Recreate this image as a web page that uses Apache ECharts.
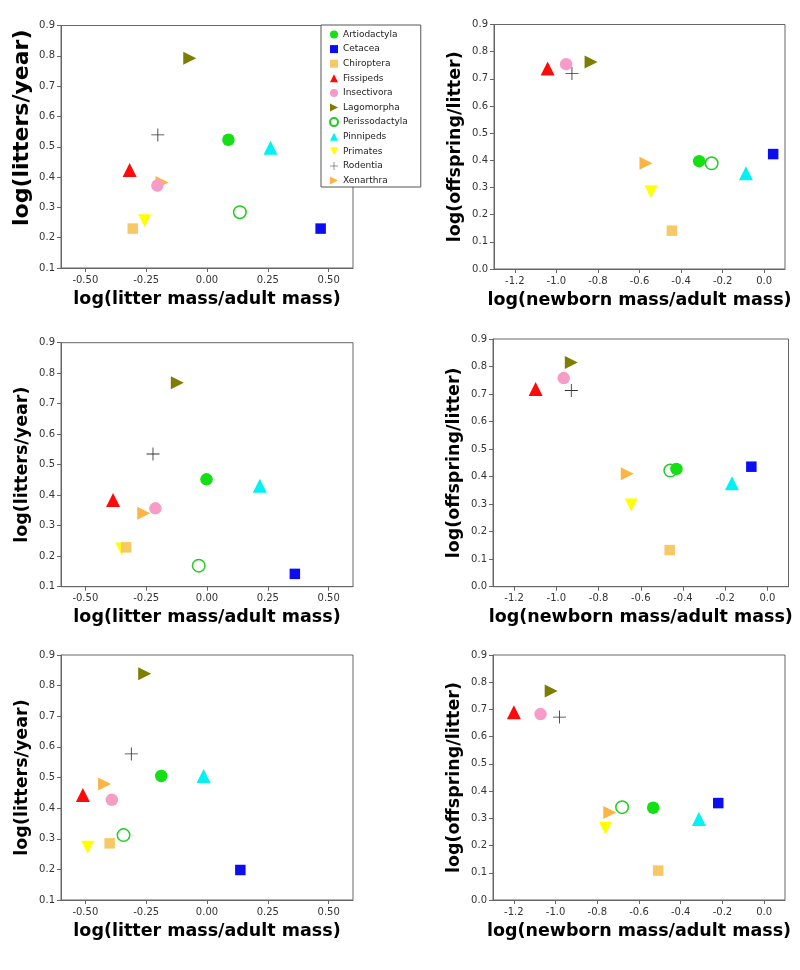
<!DOCTYPE html>
<html>
<head>
<meta charset="utf-8">
<script src="https://cdn.jsdelivr.net/npm/echarts@6/dist/echarts.min.js"></script>
<style>
html,body{margin:0;padding:0;background:#fff;}
#chart{width:800px;height:970px;}
</style>
</head>
<body>
<div id="chart"></div>
<script>
// ---- data ----
const species = ['Artiodactyla','Cetacea','Chiroptera','Fissipeds','Insectivora','Lagomorpha','Perissodactyla','Pinnipeds','Primates','Rodentia','Xenarthra'];

// top-left: log(litter mass/adult mass) vs log(litters/year)
const p1x = [0.088, 0.467, -0.305, -0.318, -0.204, -0.071, 0.135, 0.261, -0.256, -0.202, -0.185];
const p1y = [0.523, 0.230, 0.230, 0.423, 0.372, 0.792, 0.284, 0.497, 0.256, 0.539, 0.382];
// top-right: log(newborn mass/adult mass) vs log(offspring/litter)
const p2x = [-0.313, 0.043, -0.444, -1.042, -0.953, -0.833, -0.253, -0.088, -0.545, -0.925, -0.569];
const p2y = [0.397, 0.423, 0.141, 0.738, 0.754, 0.762, 0.389, 0.352, 0.284, 0.720, 0.389];
// middle-left
const p3x = [-0.002, 0.361, -0.332, -0.386, -0.212, -0.122, -0.034, 0.217, -0.350, -0.222, -0.260];
const p3y = [0.452, 0.142, 0.229, 0.384, 0.357, 0.769, 0.169, 0.431, 0.224, 0.535, 0.341];
// middle-right
const p4x = [-0.431, -0.076, -0.463, -1.098, -0.965, -0.929, -0.460, -0.168, -0.645, -0.929, -0.664];
const p4y = [0.428, 0.436, 0.133, 0.718, 0.758, 0.815, 0.422, 0.376, 0.297, 0.713, 0.410];
// bottom-left
const p5x = [-0.188, 0.137, -0.400, -0.510, -0.391, -0.256, -0.343, -0.014, -0.490, -0.311, -0.421];
const p5y = [0.505, 0.198, 0.285, 0.443, 0.427, 0.839, 0.312, 0.505, 0.272, 0.577, 0.479];
// bottom-right
const p6x = [-0.532, -0.220, -0.508, -1.200, -1.072, -1.021, -0.681, -0.313, -0.761, -0.981, -0.740];
const p6y = [0.339, 0.356, 0.108, 0.690, 0.683, 0.768, 0.341, 0.298, 0.264, 0.672, 0.321];

const leftXTicks = [-0.5, -0.25, 0, 0.25, 0.5];
const rightXTicks = [-1.2, -1.0, -0.8, -0.6, -0.4, -0.2, 0.0];

const leftXTitle = 'log(litter mass/adult mass)';
const rightXTitle = 'log(newborn mass/adult mass)';
const leftYTitle = 'log(litters/year)';
const rightYTitle = 'log(offspring/litter)';

// ---- styles ----
const colors = ['#14e014','#0d0df2','#f7c866','#ff0a0a','#f79cc6','#7d7d00','#22cc22','#00f2f2','#ffff00','#333333','#fbb545'];
const TRI_RIGHT = 'path://M0,0 L10,5 L0,10 Z';
const TRI_DOWN = 'path://M0,0 L10,0 L5,10 Z';
const PLUS = 'path://M0,9.35 L20,9.35 L20,10.65 L0,10.65 Z M9.35,0 L10.65,0 L10.65,20 L9.35,20 Z';
const symbols = ['circle','rect','rect','triangle','circle',TRI_RIGHT,'circle','triangle',TRI_DOWN,PLUS,TRI_RIGHT];
const sizes = [12.5, 10.5, 10.5, 14, 12.5, 13, 12.5, 14, 13, 13, 13];

const panels = [
  {x:p1x, y:p1y, grid:{left:61, top:25.5, width:292, height:242.5}, kind:'L', yFont:22, yGap:28, yPad:[0,0,0,38]},
  {x:p2x, y:p2y, grid:{left:494, top:24.5, width:291, height:244.5}, kind:'R', yFont:17.5, yGap:30, yPad:0},
  {x:p3x, y:p3y, grid:{left:61, top:342.7, width:292, height:244}, kind:'L', yFont:17.5, yGap:30, yPad:0},
  {x:p4x, y:p4y, grid:{left:493, top:339, width:295.5, height:247.7}, kind:'R', yFont:17.5, yGap:30, yPad:0},
  {x:p5x, y:p5y, grid:{left:61, top:655, width:292, height:245}, kind:'L', yFont:17.5, yGap:30, yPad:0},
  {x:p6x, y:p6y, grid:{left:493, top:655, width:292, height:245}, kind:'R', yFont:17.5, yGap:30, yPad:0}
];

const grids = [], xAxes = [], yAxes = [], series = [];
const axisLineStyle = {color:'#666', width:1};
const labelStyle = {color:'#333', fontSize:10, fontFamily:'DejaVu Sans'};

panels.forEach((p, gi) => {
  grids.push(Object.assign({show:true, borderColor:'#666', borderWidth:1, backgroundColor:'#fff', containLabel:false}, p.grid));
  const isL = p.kind === 'L';
  const xt = isL ? leftXTicks : rightXTicks;
  xAxes.push({
    type:'value', gridIndex:gi,
    min: isL ? -0.6 : -1.3, max: isL ? 0.6 : 0.1,
    name: isL ? leftXTitle : rightXTitle,
    nameLocation:'middle', nameGap:22,
    nameTextStyle:{fontFamily:'DejaVu Sans', fontWeight:'bold', fontSize:17.5, color:'#000'},
    splitLine:{show:false},
    axisLine:{show:true, onZero:false, lineStyle:axisLineStyle},
    axisTick:{show:true, length:4, inside:false, customValues:xt, lineStyle:axisLineStyle},
    axisLabel:Object.assign({show:true, margin:7, customValues:xt,
      formatter:(v)=> isL ? v.toFixed(2) : v.toFixed(1)}, labelStyle)
  });
  yAxes.push({
    type:'value', gridIndex:gi,
    min: isL ? 0.1 : 0.0, max:0.9, interval:0.1,
    name: isL ? leftYTitle : rightYTitle,
    nameLocation:'middle', nameGap:p.yGap, nameRotate:90,
    nameTextStyle:{fontFamily:'DejaVu Sans', fontWeight:'bold', fontSize:p.yFont, color:'#000', padding:p.yPad},
    splitLine:{show:false},
    axisLine:{show:true, onZero:false, lineStyle:axisLineStyle},
    axisTick:{show:true, length:4, inside:false, lineStyle:axisLineStyle},
    axisLabel:Object.assign({show:true, margin:6, formatter:(v)=>v.toFixed(1)}, labelStyle)
  });
  // reverse order so earlier legend entries are drawn on top
  for (let i = species.length - 1; i >= 0; i--) {
    const open = species[i] === 'Perissodactyla';
    series.push({
      type:'scatter', name:species[i], xAxisIndex:gi, yAxisIndex:gi,
      symbol:symbols[i], symbolSize:sizes[i],
      itemStyle: open ? {color:'#fff', borderColor:colors[i], borderWidth:1.5, opacity:1}
                      : {color:colors[i], opacity:1},
      emphasis:{disabled:true},
      data:[[p.x[i], p.y[i]]]
    });
  }
});

const chart = echarts.init(document.getElementById('chart'), null, {renderer:'canvas'});
chart.setOption({
  animation:false,
  backgroundColor:'#fff',
  grid:grids, xAxis:xAxes, yAxis:yAxes,
  legend:{
    data:species, orient:'vertical', left:321, top:25,
    backgroundColor:'#fff', borderColor:'#555', borderWidth:1,
    padding:[4, 13, 1, 8], itemWidth:8, itemHeight:8, itemGap:3.6,
    textStyle:{fontFamily:'DejaVu Sans', fontSize:9, color:'#222', lineHeight:11},
    selectedMode:false, z:10
  },
  series:series
});
</script>
</body>
</html>
